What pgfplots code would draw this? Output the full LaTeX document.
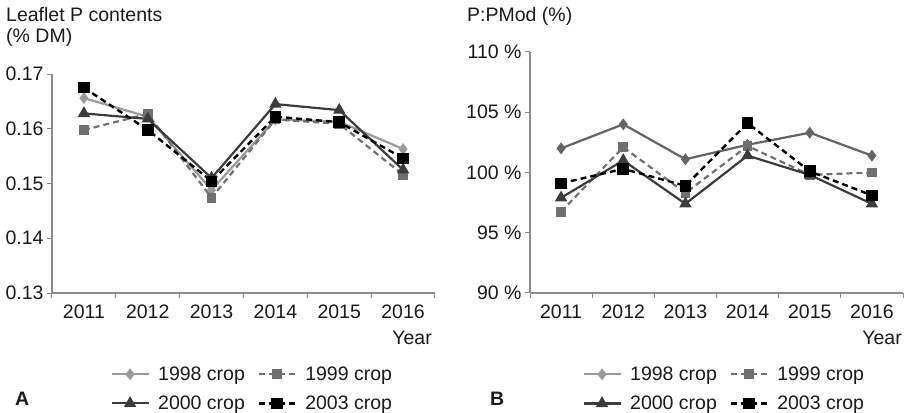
\documentclass[border=0pt]{standalone}
\usepackage{fontspec}
\setmainfont{Liberation Sans}
\usepackage{pgfplots}
\pgfplotsset{compat=1.18}
\definecolor{c98}{HTML}{9A9A9A}
\definecolor{c98b}{HTML}{646464}
\definecolor{c99}{HTML}{707070}
\definecolor{c00}{HTML}{3C3C3C}
\definecolor{c03}{HTML}{000000}
\definecolor{axc}{HTML}{8C8C8C}
\definecolor{txt}{HTML}{1A1A1A}
\newcommand{\fs}{\fontsize{19.5bp}{22bp}\selectfont}
\pgfplotsset{
  panel/.style={
    scale only axis,
    axis x line*=bottom, axis y line*=left,
    axis line style={-, axc, line width=1.1bp},
    xmin=0.5, xmax=6.5,
    xtick={1,...,6}, xticklabels={2011,2012,2013,2014,2015,2016},
    minor xtick={0.5,1.5,...,6.5},
    major x tick style={draw=none},
    minor x tick style={axc, line width=1bp},
    y tick style={axc, line width=1bp},
    tick align=outside,
    major tick length=5bp, minor tick length=5bp,
    every tick label/.append style={font=\fs, text=txt},
    xticklabel style={yshift=-3bp},
    legend columns=2,
    legend cell align=left,
    legend style={draw=none, fill=none, font=\fs, text=txt, inner sep=0pt, outer sep=0pt,
      row sep=12bp, nodes={inner sep=1bp},
      /tikz/every odd column/.append style={column sep=7bp},
      /tikz/every even column/.append style={column sep=12bp}},
    legend image code/.code={\draw[mark repeat=2,mark phase=2] plot coordinates {(0bp,0bp) (18bp,0bp) (37bp,0bp)};},
  },
  s98/.style={c98, line width=2.2bp, mark=diamond*, mark size=4.2bp, mark options={solid}},
  s98b/.style={c98b, line width=2.2bp, mark=diamond*, mark size=4.2bp, mark options={solid}},
  s99/.style={c99, line width=2.2bp, dash pattern=on 6bp off 4bp, mark=square*, mark size=3.8bp, mark options={solid}},
  s00/.style={c00, line width=2.2bp, mark=triangle*, mark size=5bp, mark options={solid}},
  s03/.style={c03, line width=2.4bp, dash pattern=on 6bp off 4bp, mark=square*, mark size=4.6bp, mark options={solid}},
}
\begin{document}
\begin{tikzpicture}
\useasboundingbox (0,0) rectangle (911bp,413bp);
% Panel A
\begin{axis}[panel, at={(52bp,120bp)}, anchor=south west, width=383bp, height=219bp,
  ymin=0.13, ymax=0.17, ytick={0.13,0.14,0.15,0.16,0.17},
  yticklabels={0.13,0.14,0.15,0.16,0.17},
  legend style={at={(axis description cs:0.154,-0.332)}, anchor=north west}]
\addplot[s98] coordinates {(1,0.1656) (2,0.1622) (3,0.1488) (4,0.1617) (5,0.1613) (6,0.1563)};
\addlegendentry{1998 crop}
\addplot[s99] coordinates {(1,0.1598) (2,0.1627) (3,0.1474) (4,0.1617) (5,0.1609) (6,0.1516)};
\addlegendentry{1999 crop}
\addplot[s00] coordinates {(1,0.1628) (2,0.1618) (3,0.1510) (4,0.1645) (5,0.1634) (6,0.1525)};
\addlegendentry{2000 crop}
\addplot[s03] coordinates {(1,0.1675) (2,0.1598) (3,0.1504) (4,0.1622) (5,0.1612) (6,0.1546)};
\addlegendentry{2003 crop}
\end{axis}
% Panel B
\begin{axis}[panel, at={(530bp,120bp)}, anchor=south west, width=373bp, height=241bp,
  ymin=90, ymax=110, ytick={90,95,100,105,110},
  yticklabels={90 \%,95 \%,100 \%,105 \%,110 \%},
  legend style={at={(axis description cs:0.142,-0.302)}, anchor=north west}]
\addlegendimage{s98}
\addlegendentry{1998 crop}
\addlegendimage{s99}
\addlegendentry{1999 crop}
\addlegendimage{s00}
\addlegendentry{2000 crop}
\addlegendimage{s03}
\addlegendentry{2003 crop}
\addplot[s98b, forget plot] coordinates {(1,102.0) (2,104.0) (3,101.1) (4,102.3) (5,103.3) (6,101.4)};
\addplot[s99, forget plot] coordinates {(1,96.75) (2,102.1) (3,98.3) (4,102.2) (5,99.8) (6,100.0)};
\addplot[s00, forget plot] coordinates {(1,97.9) (2,101.0) (3,97.4) (4,101.4) (5,99.8) (6,97.4)};
\addplot[s03, forget plot] coordinates {(1,99.1) (2,100.3) (3,98.9) (4,104.1) (5,100.1) (6,98.1)};
\end{axis}
% Titles and labels
\node[anchor=base west, inner sep=0pt, font=\fs, text=txt] at (6bp,391bp) {Leaflet P contents};
\node[anchor=base west, inner sep=0pt, font=\fs, text=txt] at (6bp,370bp) {(\% DM)};
\node[anchor=base west, inner sep=0pt, font=\fs, text=txt] at (467bp,391bp) {P:PMod (\%)};
\node[anchor=base east, inner sep=0pt, font=\fs, text=txt] at (432bp,68bp) {Year};
\node[anchor=base east, inner sep=0pt, font=\fs, text=txt] at (902bp,68bp) {Year};
\node[anchor=base west, inner sep=0pt, font=\fs\bfseries, text=txt] at (15bp,8bp) {A};
\node[anchor=base west, inner sep=0pt, font=\fs\bfseries, text=txt] at (490bp,8bp) {B};
\end{tikzpicture}
\end{document}
